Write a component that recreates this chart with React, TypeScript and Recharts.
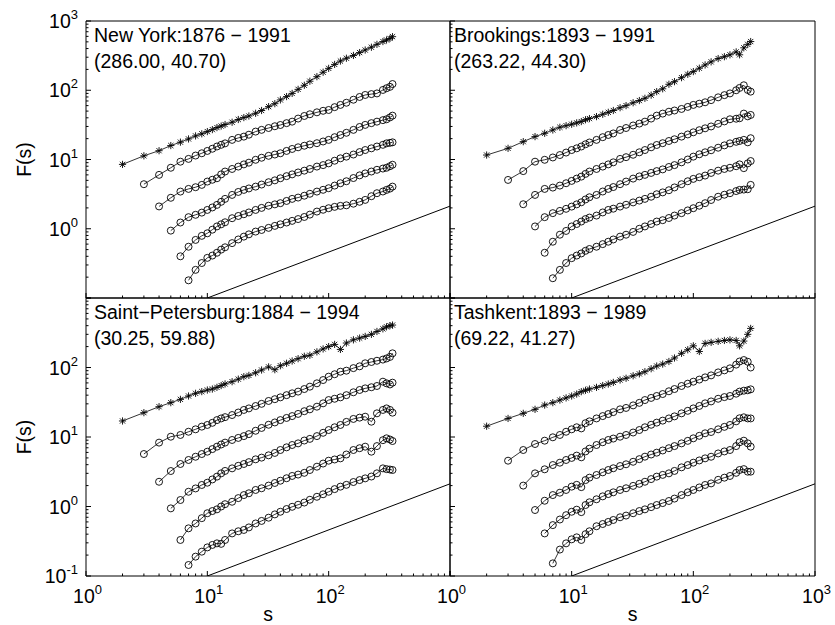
import React from 'react';
import { ScatterChart, Scatter, XAxis, YAxis, ReferenceArea, Label } from 'recharts';

// ---------- data ----------
const S_LEFT = [2, 3, 4, 5, 6, 7, 8, 9, 10, 11, 12, 13, 14, 16, 18, 20, 22, 25, 28, 32, 36, 40, 45, 50, 56, 63, 70, 80, 90, 100, 112, 125, 140, 160, 180, 200, 225, 250, 280, 300, 320, 336];
const S_RIGHT = [2, 3, 4, 5, 6, 7, 8, 9, 10, 11, 12, 13, 14, 16, 18, 20, 22, 25, 28, 32, 36, 40, 45, 50, 56, 63, 70, 80, 90, 100, 112, 125, 140, 160, 180, 200, 225, 240, 260, 280, 296];

// New York
const NY_A = [8.5, 11.3, 13.4, 15.9, 17.8, 19.8, 21.9, 23.5, 25.3, 27.0, 28.9, 30.4, 32.0, 34.5, 37.8, 40.3, 42.5, 46.5, 51, 58, 64, 72.5, 81, 90, 103, 118, 135, 157, 182, 207, 236, 264, 290, 318, 350, 381, 418, 460, 505, 532, 560, 594];
const NY_B = [4.4, 6.0, 7.6, 9.3, 10.2, 11.4, 12.3, 13.3, 14.3, 15.4, 16.3, 17.1, 19.2, 20.5, 21.4, 22.8, 25.3, 26.8, 28.5, 30.2, 31.5, 33.5, 35.2, 39, 42.5, 45, 48, 50.5, 51.9, 57, 61.4, 66, 73, 80, 85.5, 88, 90, 101, 107, 112, 123];
const NY_C = [2.1, 2.8, 3.44, 3.76, 3.98, 4.3, 4.8, 5.1, 5.36, 6.1, 6.7, 7.3, 7.9, 8.5, 9.0, 9.9, 10.6, 11.3, 11.8, 12.3, 13.3, 14.2, 15.0, 15.8, 16.5, 17.2, 18.2, 19.2, 21, 22.6, 24.3, 26.8, 29.5, 31.6, 33.5, 35.2, 37, 38.1, 40.5, 43];
const NY_D = [0.94, 1.23, 1.47, 1.59, 1.71, 1.87, 2.03, 2.21, 2.45, 2.7, 3.08, 3.4, 3.64, 3.82, 4.06, 4.35, 4.7, 5.0, 5.36, 5.75, 6.1, 6.5, 6.9, 7.3, 7.9, 8.3, 8.8, 9.6, 10.4, 11.0, 11.8, 12.8, 13.7, 14.5, 15.4, 16.3, 17.1, 17.4, 17.7];
const NY_E = [0.40, 0.55, 0.69, 0.79, 0.86, 0.97, 1.08, 1.16, 1.24, 1.42, 1.53, 1.62, 1.72, 1.87, 2.0, 2.15, 2.25, 2.34, 2.52, 2.7, 2.82, 3.0, 3.2, 3.44, 3.65, 3.85, 4.2, 4.54, 4.85, 5.4, 5.9, 6.3, 6.7, 7.1, 7.4, 7.6, 8.0, 8.4];
const NY_F = [0.18, 0.255, 0.32, 0.38, 0.41, 0.45, 0.5, 0.54, 0.62, 0.7, 0.77, 0.83, 0.91, 0.96, 1.03, 1.1, 1.16, 1.23, 1.30, 1.38, 1.48, 1.6, 1.77, 1.88, 1.98, 2.07, 2.14, 2.18, 2.3, 2.45, 2.61, 2.95, 3.26, 3.45, 3.64, 3.8, 4.06];

// Brookings
const BR_A = [11.6, 14.5, 18.1, 21.4, 23.9, 26.7, 29.2, 30.8, 32.3, 33.8, 35.3, 37.5, 39, 41.6, 45, 48, 51, 56, 60, 66, 71, 76.5, 85, 95.5, 105, 122, 133, 152, 170, 186, 208, 232, 257, 287, 305, 325, 358, 325, 410, 460, 505];
const BR_B = [5.07, 6.8, 9.3, 9.9, 10.7, 11.6, 12.6, 13.7, 14.5, 15.4, 16.6, 17.6, 19.2, 21, 22.6, 23.8, 26.7, 28.5, 31, 33, 35.2, 39, 43, 46, 49, 51, 53.7, 57.5, 61.4, 64, 67, 72, 79, 85, 90, 100, 108, 118, 101, 95.5];
const BR_C = [2.26, 3.08, 3.76, 3.93, 4.2, 4.54, 4.91, 5.3, 5.66, 6.2, 6.7, 7.3, 7.9, 8.5, 9.1, 10.2, 10.8, 11.7, 12.7, 13.7, 15.0, 16.2, 17.2, 18.5, 19.6, 21.4, 23, 24.7, 26.5, 28.2, 30, 32.8, 35.5, 38.1, 38.8, 39.4, 46, 42, 44];
const BR_D = [1.08, 1.47, 1.68, 1.81, 1.94, 2.09, 2.25, 2.41, 2.65, 2.85, 3.08, 3.45, 3.76, 4.0, 4.4, 4.8, 5.3, 5.7, 6.0, 6.4, 6.8, 7.2, 7.8, 8.3, 9.1, 10.0, 11.0, 11.9, 12.7, 13.6, 14.8, 16.0, 17.1, 18.0, 18.5, 19.2, 17.7, 20.3];
const BR_E = [0.45, 0.65, 0.82, 0.93, 1.08, 1.17, 1.27, 1.38, 1.45, 1.55, 1.72, 1.87, 1.95, 2.09, 2.22, 2.4, 2.55, 2.7, 2.9, 3.15, 3.35, 3.6, 3.95, 4.4, 4.85, 5.25, 5.55, 5.86, 6.4, 6.9, 7.3, 7.6, 8.0, 8.5, 7.5, 8.8, 9.5];
const BR_F = [0.193, 0.255, 0.32, 0.376, 0.41, 0.44, 0.48, 0.51, 0.55, 0.6, 0.65, 0.7, 0.77, 0.82, 0.9, 1.0, 1.08, 1.17, 1.27, 1.33, 1.43, 1.55, 1.68, 1.84, 1.98, 2.15, 2.34, 2.6, 2.9, 3.1, 3.26, 3.5, 3.64, 3.68, 3.72, 4.3];

// Saint-Petersburg
const SP_A = [17.0, 22.4, 27.3, 31.2, 34.8, 38.9, 42.5, 45, 47.4, 49, 51.8, 55, 58, 62.5, 68, 73.8, 77, 84, 92, 102, 93, 106, 115, 124, 134, 145, 150, 168, 185, 200, 215, 182, 225, 250, 265, 280, 300, 330, 360, 385, 400, 408];
const SP_B = [5.69, 8.3, 10.1, 10.7, 11.9, 12.9, 14.1, 14.9, 16, 17.5, 18.5, 19.3, 20.7, 22.5, 24.5, 25.8, 27.9, 30, 33, 35, 37.2, 40, 42.5, 45, 49, 53, 59.2, 66, 73.8, 80, 87, 90, 98, 104, 115, 120, 125, 130, 135, 142, 160];
const SP_C = [2.27, 3.24, 4.09, 4.67, 5.2, 5.69, 6.15, 6.7, 7.26, 7.8, 8.3, 9.06, 9.7, 10.3, 11, 12.3, 13.5, 15, 16.2, 17.5, 18.8, 20, 21.5, 23.5, 25, 27.3, 30.5, 34, 35.5, 37.2, 40, 44, 47.5, 50.1, 52, 54.2, 62.5, 59.2, 57, 60.5];
const SP_D = [0.94, 1.24, 1.63, 1.82, 2.04, 2.2, 2.45, 2.69, 3.0, 3.25, 3.54, 3.85, 4.09, 4.35, 4.77, 5.05, 5.45, 5.9, 6.5, 7.1, 7.67, 8.1, 8.9, 9.4, 10.3, 11.5, 12.6, 13.8, 14.9, 16.5, 18.2, 19, 19.6, 16.6, 21.9, 24.5, 25.8, 24.5, 22.4];
const SP_E = [0.33, 0.485, 0.57, 0.68, 0.80, 0.86, 0.91, 1.0, 1.08, 1.17, 1.32, 1.46, 1.55, 1.73, 1.83, 2.0, 2.18, 2.35, 2.55, 2.75, 2.88, 3.05, 3.35, 3.74, 4.15, 4.56, 4.75, 4.93, 5.6, 6.5, 6.9, 7.26, 6.15, 7.4, 9.0, 9.57, 9.2, 8.75];
const SP_F = [0.144, 0.19, 0.224, 0.258, 0.28, 0.295, 0.29, 0.33, 0.41, 0.44, 0.46, 0.5, 0.57, 0.62, 0.69, 0.77, 0.84, 0.92, 0.99, 1.06, 1.14, 1.25, 1.38, 1.5, 1.63, 1.78, 1.93, 2.05, 2.25, 2.4, 2.54, 2.7, 3.0, 3.54, 3.45, 3.4, 3.35];

// Tashkent
const TA_A = [14.3, 18.5, 21.9, 25, 28.8, 31.2, 34, 36.5, 38.9, 41.5, 44.9, 47, 49, 51.8, 55, 57.8, 61, 66.1, 70, 76, 81, 87, 96, 105, 112, 122, 137, 160, 180, 205, 170, 222, 230, 238, 245, 250, 245, 205, 240, 300, 365];
const TA_B = [4.56, 6.5, 7.93, 8.85, 9.9, 10.7, 11.9, 12.9, 13.8, 13.3, 15.8, 16.8, 18.5, 20, 21.4, 22.8, 25, 26.2, 28.5, 31, 34, 36.5, 38.9, 41.5, 45.5, 49, 54.2, 58.5, 62.5, 67, 72.1, 77, 85, 91, 97.3, 110, 122, 128, 121, 100];
const TA_C = [2.0, 3.0, 3.43, 3.95, 4.27, 4.67, 5.0, 5.4, 5.1, 6.2, 6.8, 7.67, 8.4, 9.06, 9.5, 10.1, 10.7, 11.6, 12.6, 13.8, 15, 16.1, 17.2, 18.5, 19.8, 21.9, 23.8, 25.8, 28, 30.5, 32.5, 35.5, 37.5, 38.9, 42, 45, 46.4, 47, 48.5];
const TA_D = [0.89, 1.21, 1.46, 1.58, 1.73, 1.93, 2.05, 1.9, 2.4, 2.6, 2.84, 3.1, 3.35, 3.55, 3.82, 4.05, 4.4, 4.8, 5.21, 5.6, 5.95, 6.4, 6.9, 7.4, 8.1, 8.8, 9.57, 10.4, 11.3, 11.8, 12.9, 14, 14.9, 16.8, 18.6, 19.2, 18.5, 18.5];
const TA_E = [0.41, 0.54, 0.65, 0.75, 0.84, 0.9, 0.83, 1.05, 1.15, 1.27, 1.4, 1.51, 1.6, 1.73, 1.83, 1.98, 2.12, 2.27, 2.48, 2.69, 2.85, 3.0, 3.25, 3.66, 3.95, 4.27, 4.6, 4.93, 5.2, 5.8, 6.2, 6.5, 7.4, 8.4, 8.85, 8.1, 7.26];
const TA_F = [0.152, 0.24, 0.295, 0.337, 0.36, 0.33, 0.4, 0.44, 0.52, 0.56, 0.6, 0.64, 0.70, 0.74, 0.8, 0.86, 0.91, 0.98, 1.05, 1.12, 1.2, 1.3, 1.46, 1.6, 1.73, 1.88, 2.04, 2.15, 2.42, 2.6, 2.75, 3.05, 3.35, 3.45, 3.17, 3.17];

// reference slope line
const REF_S = [10, 1000];
const REF_F = [0.1, 2.12];

// ticks
const X_TICKS = [1, 2, 3, 4, 5, 6, 7, 8, 9, 10, 20, 30, 40, 50, 60, 70, 80, 90, 100, 200, 300, 400, 500, 600, 700, 800, 900, 1000];
const Y_TICKS = [0.1, 0.2, 0.3, 0.4, 0.5, 0.6, 0.7, 0.8, 0.9, 1, 2, 3, 4, 5, 6, 7, 8, 9, 10, 20, 30, 40, 50, 60, 70, 80, 90, 100, 200, 300, 400, 500, 600, 700, 800, 900, 1000];

const TITLES = ['New York:1876 − 1991', 'Brookings:1893 − 1991', 'Saint−Petersburg:1884 − 1994', 'Tashkent:1893 − 1989'];
const COORDS = ['(286.00, 40.70)', '(263.22, 44.30)', '(30.25, 59.88)', '(69.22, 41.27)'];
const SERIES = [
  [NY_A, NY_B, NY_C, NY_D, NY_E, NY_F],
  [BR_A, BR_B, BR_C, BR_D, BR_E, BR_F],
  [SP_A, SP_B, SP_C, SP_D, SP_E, SP_F],
  [TA_A, TA_B, TA_C, TA_D, TA_E, TA_F],
];
const GRIDS = [S_LEFT, S_RIGHT, S_LEFT, S_RIGHT];
const Y_LABEL_EXP = [[0, 1, 2, 3], [], [-1, 0, 1, 2], []];
const X_LABEL_EXP = [[], [], [0, 1, 2], [0, 1, 2, 3]];

// ---------- layout ----------
const W = 835;
const H = 625;
const YW = 86;
const XH = 30;
const FONT = '"Liberation Sans", Arial, Helvetica, sans-serif';
const BOXES = [
  { l: 86, r: 450, t: 21, b: 298 },
  { l: 450, r: 815, t: 21, b: 298 },
  { l: 86, r: 450, t: 298, b: 576 },
  { l: 450, r: 815, t: 298, b: 576 },
];
const TITLE_X = [94, 454, 94, 454];

const isMajor = (v: number) => Math.abs(Math.log10(v) - Math.round(Math.log10(v))) < 1e-6;

const makeYTick = (labels: number[]) => (props: any) => {
  const { x, y, payload } = props;
  const v = payload.value;
  const major = isMajor(v);
  const e = Math.round(Math.log10(v));
  const len = major ? 5 : 2.5;
  return (
    <g>
      <line x1={x} y1={y} x2={x + len} y2={y} stroke="#000" strokeWidth={1} />
      {major && labels.includes(e) && (
        <text x={x - 8} y={y + 7} textAnchor="end" fontSize={19.5} fontFamily={FONT} fill="#000">
          <tspan>10</tspan>
          <tspan dy={-9} fontSize={13}>{String(e)}</tspan>
        </text>
      )}
    </g>
  );
};

const makeXTick = (labels: number[]) => (props: any) => {
  const { x, y, payload } = props;
  const v = payload.value;
  const major = isMajor(v);
  const e = Math.round(Math.log10(v));
  const len = major ? 5 : 2.5;
  return (
    <g>
      <line x1={x} y1={y} x2={x} y2={y - len} stroke="#000" strokeWidth={1} />
      {major && labels.includes(e) && (
        <text x={x + 1.5} y={y + 27} textAnchor="middle" fontSize={19.5} fontFamily={FONT} fill="#000">
          <tspan>10</tspan>
          <tspan dy={-9} fontSize={13}>{String(e)}</tspan>
        </text>
      )}
    </g>
  );
};

const CircleMark = (props: any) => {
  const { cx, cy } = props;
  if (cx == null || cy == null) return <g />;
  return <circle cx={cx} cy={cy} r={3.5} fill="none" stroke="#000" strokeWidth={0.9} />;
};

const StarMark = (props: any) => {
  const { cx, cy } = props;
  if (cx == null || cy == null) return <g />;
  const a = 3.6;
  const d = 2.6;
  return (
    <g stroke="#000" strokeWidth={0.9}>
      <line x1={cx - a} y1={cy} x2={cx + a} y2={cy} />
      <line x1={cx} y1={cy - a} x2={cx} y2={cy + a} />
      <line x1={cx - d} y1={cy - d} x2={cx + d} y2={cy + d} />
      <line x1={cx - d} y1={cy + d} x2={cx + d} y2={cy - d} />
    </g>
  );
};

const NoMark = () => <g />;

const toPoints = (grid: number[], vals: number[], start: number) =>
  vals.map((F, i) => ({ s: grid[start + i], F })).filter((p) => p.s != null);

const refPoints = REF_S.map((s, i) => ({ s, F: REF_F[i] }));

const Panel = ({ idx }: { idx: number }) => {
  const box = BOXES[idx];
  const grid = GRIDS[idx];
  const showYTitle = idx === 0 || idx === 2;
  const showXTitle = idx === 2 || idx === 3;
  return (
    <div style={{ position: 'absolute', left: 0, top: 0, width: W, height: H }}>
      <ScatterChart
        width={W}
        height={H}
        margin={{ top: box.t, left: box.l - YW, right: W - box.r, bottom: H - box.b - XH }}
      >
        <XAxis
          dataKey="s"
          type="number"
          scale="log"
          domain={[1, 1000]}
          allowDataOverflow
          ticks={X_TICKS}
          interval={0}
          tickSize={0}
          tickMargin={0}
          axisLine={false}
          tickLine={false}
          height={XH}
          tick={makeXTick(X_LABEL_EXP[idx])}
        >
          {showXTitle && (
            <Label
              content={(p: any) => {
                const vb = p.viewBox || {};
                return (
                  <text x={vb.x + vb.width / 2} y={vb.y + 45} textAnchor="middle" fontSize={19.5} fontFamily={FONT} fill="#000">
                    s
                  </text>
                );
              }}
            />
          )}
        </XAxis>
        <YAxis
          dataKey="F"
          type="number"
          scale="log"
          domain={[0.1, 1000]}
          allowDataOverflow
          ticks={Y_TICKS}
          interval={0}
          tickSize={0}
          tickMargin={0}
          axisLine={false}
          tickLine={false}
          width={YW}
          tick={makeYTick(Y_LABEL_EXP[idx])}
        >
          {showYTitle && (
            <Label
              content={(p: any) => {
                const vb = p.viewBox || {};
                const cy = vb.y + vb.height / 2;
                return (
                  <text
                    transform={`translate(${vb.x + 31},${cy}) rotate(-90)`}
                    x={0}
                    y={0}
                    textAnchor="middle"
                    fontSize={19.5}
                    fontFamily={FONT}
                    fill="#000"
                  >
                    F(s)
                  </text>
                );
              }}
            />
          )}
        </YAxis>
        <ReferenceArea x1={1} x2={1000} y1={0.1} y2={1000} fill="none" stroke="#000" strokeWidth={1} />
        <Scatter
          data={refPoints}
          line={{ stroke: '#000', strokeWidth: 1 }}
          lineType="joint"
          shape={NoMark}
          isAnimationActive={false}
        />
        {SERIES[idx].map((vals, k) => (
          <Scatter
            key={k}
            data={toPoints(grid, vals, k)}
            line={{ stroke: '#000', strokeWidth: 0.8 }}
            lineType="joint"
            shape={k === 0 ? StarMark : CircleMark}
            isAnimationActive={false}
          />
        ))}
      </ScatterChart>
    </div>
  );
};

export default function App() {
  return (
    <div style={{ position: 'absolute', left: 0, top: 0, width: W, height: H, background: '#fff' }}>
      {[0, 1, 2, 3].map((i) => (
        <Panel key={i} idx={i} />
      ))}
      <svg width={W} height={H} style={{ position: 'absolute', left: 0, top: 0, pointerEvents: 'none' }}>
        {BOXES.map((b, i) => (
          <g key={i}>
            <text x={TITLE_X[i]} y={b.t + 21} fontSize={19.5} fontFamily={FONT} fill="#000">
              {TITLES[i]}
            </text>
            <text x={TITLE_X[i]} y={b.t + 47} fontSize={19.5} fontFamily={FONT} fill="#000">
              {COORDS[i]}
            </text>
          </g>
        ))}
      </svg>
    </div>
  );
}
